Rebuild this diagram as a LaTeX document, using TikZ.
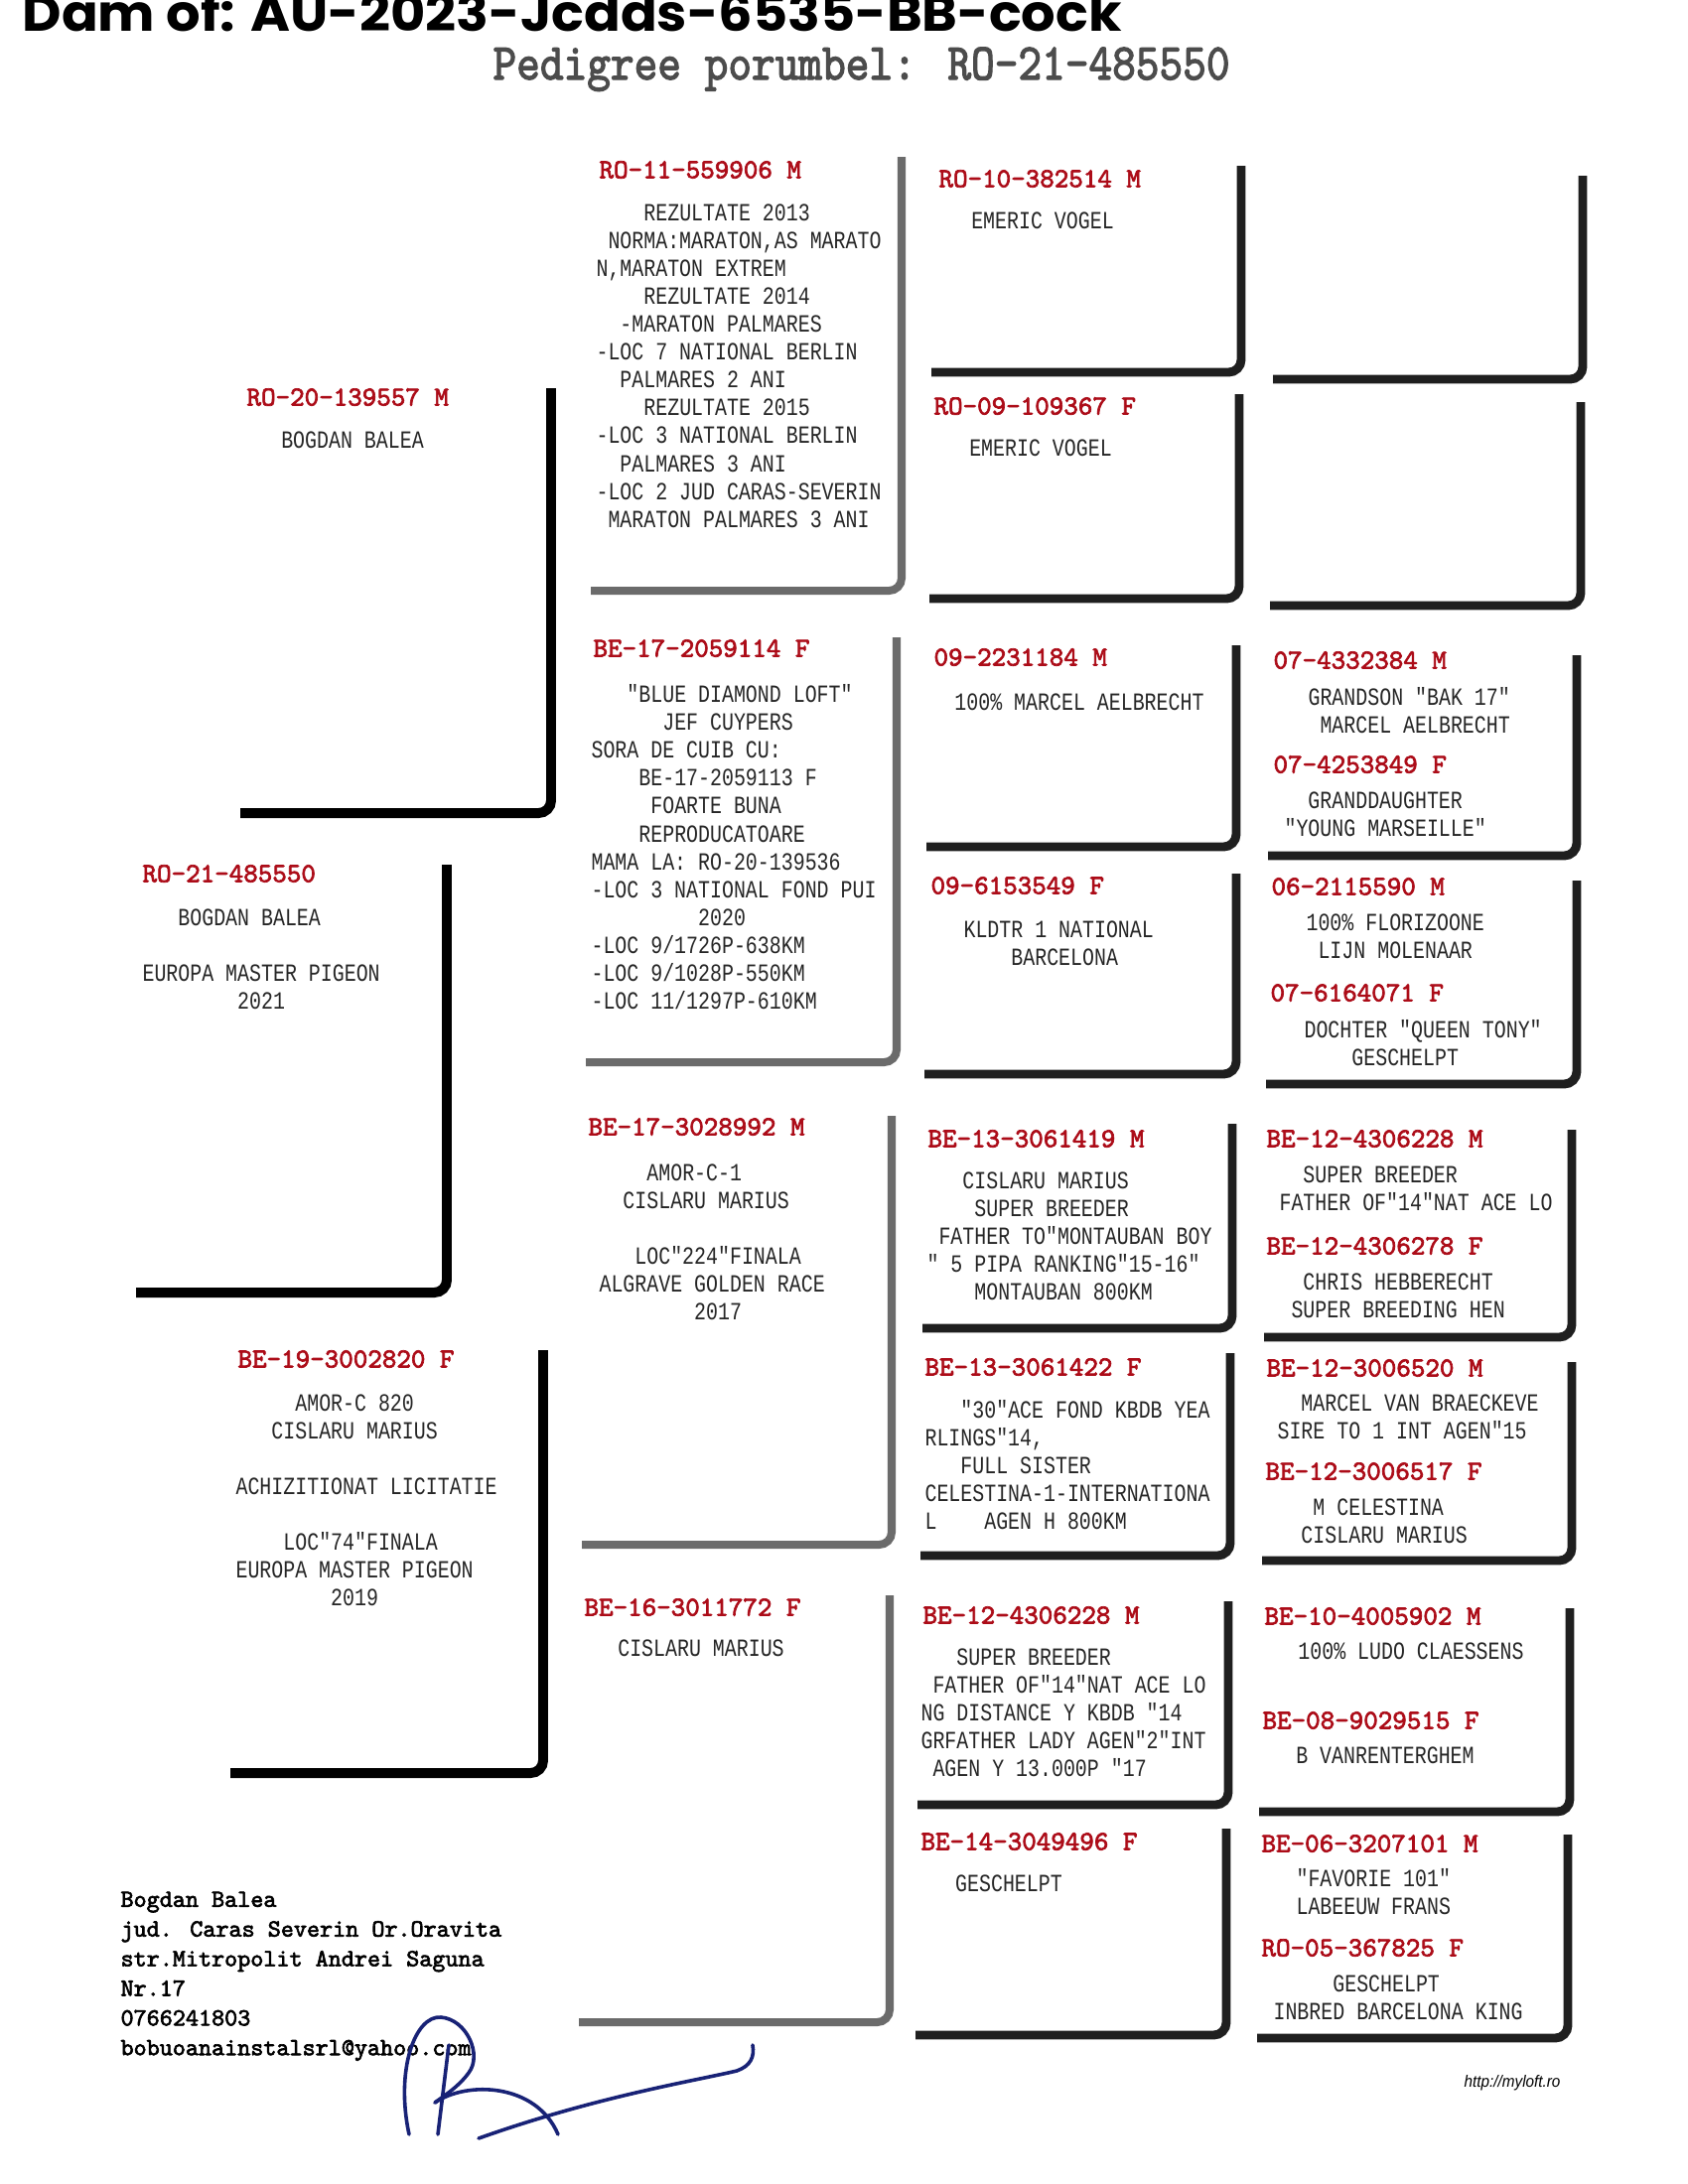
\documentclass[tikz,border=0pt]{standalone}
\usepackage{fontspec}
\usepackage{graphicx}
\usepackage{tikz}
\newfontfamily\boxfont[FakeStretch=0.8]{Liberation Mono}
\newfontfamily\slabfont[FakeBold=2.5]{lmmono10-regular.otf}
\newfontfamily\handfont{Poppins}
\newfontfamily\urlfont{Liberation Sans}
\definecolor{idred}{RGB}{172,12,24}
\definecolor{ink}{RGB}{24,34,118}
\newcommand\pad[1]{\hspace*{#1\fontcharwd\font`\0}}
\tikzstyle{fr}=[line width=3.2pt,draw=black!88,rounded corners=1.6mm]
\tikzstyle{frb}=[line width=3.6pt,draw=black,rounded corners=1.6mm]
\tikzstyle{frg}=[line width=2.9pt,draw=black!58,rounded corners=1.6mm]
\tikzstyle{idno}=[anchor=west,inner sep=0pt,text=idred,font=\slabfont\fontsize{10}{12}\selectfont]
\tikzstyle{tx}=[anchor=north west,inner sep=0pt,align=left,text=black!85,font=\boxfont\fontsize{9}{10.15}\selectfont]
\tikzstyle{txc}=[inner sep=0pt,text=black!85,font=\boxfont\fontsize{9}{10.15}\selectfont]
\tikzstyle{sign}=[draw=ink,line width=1.3pt,line cap=round]

\begin{document}
\begin{tikzpicture}[x=0.127mm,y=-0.127mm]
        \useasboundingbox (0,0) rectangle (1700,2200);
        \fill[white] (0,0) rectangle (1700,2200);
        % header
        \node[anchor=base west,inner sep=0pt,font=\handfont\bfseries\fontsize{18.5}{20}\selectfont] (dam) at (22,31) {\scalebox{1.06}[1]{Dam of: AU-2023-Jcdds-6535-BB-cock}};
        \node[anchor=base west,inner sep=0pt,text=black!70,font=\slabfont\fontsize{16.3}{18}\selectfont] (title) at (496,80) {\scalebox{1}[1.15]{Pedigree porumbel: RO-21-485550}};

        % generation 1
        \draw[frb] (450,871) -- (450,1302) -- (137,1302);
        \node[idno] (p) at (143,880) {RO-21-485550};
        \node[tx] (pt) at (143,915) {\pad{3}BOGDAN BALEA\\[10.15pt] EUROPA MASTER PIGEON\\ \pad{8}2021};

        % generation 2
        \draw[frb] (555,391) -- (555,819) -- (242,819);
        \node[idno] (s) at (248,400) {RO-20-139557 M};
        \node[txc] (st) at (355,443) {BOGDAN BALEA};
        \draw[frb] (547,1360) -- (547,1786) -- (232,1786);
        \node[idno] (d) at (239,1369) {BE-19-3002820 F};
        \node[tx] (dt) at (237,1404) {\pad{5}AMOR-C 820\\ \pad{3}CISLARU MARIUS\\[10.15pt] ACHIZITIONAT LICITATIE\\[10.15pt] \pad{4}LOC"74"FINALA\\ EUROPA MASTER PIGEON\\ \pad{8}2019};

        % generation 3
        \draw[frg] (908,158) -- (908,595) -- (595,595);
        \node[idno] (ss) at (603,171) {RO-11-559906 M};
        \node[tx] (sst) at (600,205) {\pad{4}REZULTATE 2013\\ \pad{1}NORMA:MARATON,AS MARATO\\ N,MARATON EXTREM\\ \pad{4}REZULTATE 2014\\ \pad{2}-MARATON PALMARES\\ -LOC 7 NATIONAL BERLIN\\ \pad{2}PALMARES 2 ANI\\ \pad{4}REZULTATE 2015\\ -LOC 3 NATIONAL BERLIN\\ \pad{2}PALMARES 3 ANI\\ -LOC 2 JUD CARAS-SEVERIN\\ \pad{1}MARATON PALMARES 3 ANI};
        \draw[frg] (903,642) -- (903,1070) -- (590,1070);
        \node[idno] (sd) at (597,653) {BE-17-2059114 F};
        \node[tx] (sdt) at (595,689) {\pad{3}"BLUE DIAMOND LOFT"\\ \pad{6}JEF CUYPERS\\ SORA DE CUIB CU:\\ \pad{4}BE-17-2059113 F\\ \pad{5}FOARTE BUNA\\ \pad{4}REPRODUCATOARE\\ MAMA LA: RO-20-139536\\ -LOC 3 NATIONAL FOND PUI\\ \pad{9}2020\\ -LOC 9/1726P-638KM\\ -LOC 9/1028P-550KM\\ -LOC 11/1297P-610KM};
        \draw[frg] (898,1124) -- (898,1556) -- (586,1556);
        \node[idno] (ds) at (592,1135) {BE-17-3028992 M};
        \node[tx] (dst) at (603,1172) {\pad{4}AMOR-C-1\\ \pad{2}CISLARU MARIUS\\[10.15pt] \pad{3}LOC"224"FINALA\\ ALGRAVE GOLDEN RACE\\ \pad{8}2017};
        \draw[frg] (896,1607) -- (896,2037) -- (583,2037);
        \node[idno] (dd) at (588,1619) {BE-16-3011772 F};
        \node[txc] (ddt) at (706,1660) {CISLARU MARIUS};

        % generation 4
        \draw[fr] (1250,167) -- (1250,375) -- (938,375);
        \node[idno] (sss) at (945,180) {RO-10-382514 M};
        \node[txc] (ssst) at (1050,222) {EMERIC VOGEL};
        \draw[fr] (1248,397) -- (1248,603) -- (936,603);
        \node[idno] (ssd) at (940,409) {RO-09-109367 F};
        \node[txc] (ssdt) at (1048,451) {EMERIC VOGEL};
        \draw[fr] (1245,650) -- (1245,853) -- (933,853);
        \node[idno] (sds) at (940,662) {09-2231184 M};
        \node[txc] (sdst) at (1087,707) {100\% MARCEL AELBRECHT};
        \draw[fr] (1245,880) -- (1245,1082) -- (931,1082);
        \node[idno] (sdd) at (937,892) {09-6153549 F};
        \node[tx] (sddt) at (970,927) {KLDTR 1 NATIONAL\\ \pad{4}BARCELONA};
        \draw[fr] (1241,1132) -- (1241,1338) -- (929,1338);
        \node[idno] (dss) at (934,1147) {BE-13-3061419 M};
        \node[tx] (dsst) at (933,1180) {\pad{3}CISLARU MARIUS\\ \pad{4}SUPER BREEDER\\ \pad{1}FATHER TO"MONTAUBAN BOY\\ " 5 PIPA RANKING"15-16"\\ \pad{4}MONTAUBAN 800KM};
        \draw[fr] (1239,1363) -- (1239,1567) -- (927,1567);
        \node[idno] (dsd) at (931,1377) {BE-13-3061422 F};
        \node[tx] (dsdt) at (931,1410) {\pad{3}"30"ACE FOND KBDB YEA\\ RLINGS"14,\\ \pad{3}FULL SISTER\\ CELESTINA-1-INTERNATIONA\\ L\pad{4}AGEN H 800KM};
        \draw[fr] (1237,1613) -- (1237,1818) -- (924,1818);
        \node[idno] (dds) at (929,1627) {BE-12-4306228 M};
        \node[tx] (ddst) at (927,1660) {\pad{3}SUPER BREEDER\\ \pad{1}FATHER OF"14"NAT ACE LO\\ NG DISTANCE Y KBDB "14\\ GRFATHER LADY AGEN"2"INT\\ \pad{1}AGEN Y 13.000P "17};
        \draw[fr] (1235,1842) -- (1235,2050) -- (922,2050);
        \node[idno] (ddd) at (927,1855) {BE-14-3049496 F};
        \node[txc] (dddt) at (1016,1897) {GESCHELPT};

        % generation 5
        \draw[fr] (1594,177) -- (1594,382) -- (1282,382);
        \draw[fr] (1592,405) -- (1592,610) -- (1279,610);
        \draw[fr] (1588,660) -- (1588,862) -- (1277,862);
        \node[idno] (sdss) at (1282,665) {07-4332384 M};
        \node[tx] (sdsst) at (1317,692) {GRANDSON "BAK 17"\\ \pad{1}MARCEL AELBRECHT};
        \node[idno] (sdsd) at (1282,770) {07-4253849 F};
        \node[tx] (sdsdt) at (1293,797) {\pad{2}GRANDDAUGHTER\\ "YOUNG MARSEILLE"};
        \draw[fr] (1588,887) -- (1588,1092) -- (1275,1092);
        \node[idno] (sdds) at (1280,893) {06-2115590 M};
        \node[tx] (sddst) at (1315,920) {100\% FLORIZOONE\\ \pad{1}LIJN MOLENAAR};
        \node[idno] (sddd) at (1279,1000) {07-6164071 F};
        \node[tx] (sdddt) at (1313,1027) {DOCHTER "QUEEN TONY"\\ \pad{4}GESCHELPT};
        \draw[fr] (1583,1138) -- (1583,1347) -- (1273,1347);
        \node[idno] (dsss) at (1275,1147) {BE-12-4306228 M};
        \node[tx] (dssst) at (1288,1174) {\pad{2}SUPER BREEDER\\ FATHER OF"14"NAT ACE LO};
        \node[idno] (dssd) at (1275,1255) {BE-12-4306278 F};
        \node[tx] (dssdt) at (1288,1282) {\pad{2}CHRIS HEBBERECHT\\ \pad{1}SUPER BREEDING HEN};
        \draw[fr] (1583,1372) -- (1583,1572) -- (1271,1572);
        \node[idno] (dsds) at (1275,1378) {BE-12-3006520 M};
        \node[tx] (dsdst) at (1286,1404) {\pad{2}MARCEL VAN BRAECKEVE\\ SIRE TO 1 INT AGEN"15};
        \node[idno] (dsdd) at (1274,1482) {BE-12-3006517 F};
        \node[tx] (dsddt) at (1286,1509) {\pad{3}M CELESTINA\\ \pad{2}CISLARU MARIUS};
        \draw[fr] (1581,1620) -- (1581,1825) -- (1268,1825);
        \node[idno] (ddss) at (1273,1628) {BE-10-4005902 M};
        \node[txc] (ddsst) at (1421,1663) {100\% LUDO CLAESSENS};
        \node[idno] (ddsd) at (1271,1733) {BE-08-9029515 F};
        \node[txc] (ddsdt) at (1395,1768) {B VANRENTERGHEM};
        \draw[fr] (1579,1848) -- (1579,2053) -- (1266,2053);
        \node[idno] (ddds) at (1270,1857) {BE-06-3207101 M};
        \node[tx] (dddst) at (1305,1882) {"FAVORIE 101"\\ LABEEUW FRANS};
        \node[idno] (dddd) at (1270,1962) {RO-05-367825 F};
        \node[tx] (ddddt) at (1282,1989) {\pad{5}GESCHELPT\\ INBRED BARCELONA KING};

        % footer
        \node[anchor=north west,inner sep=0pt,align=left,font=\slabfont\fontsize{9}{10.8}\selectfont] (addr) at (121,1905) {Bogdan Balea\\ jud. Caras Severin Or.Oravita\\ str.Mitropolit Andrei Saguna\\ Nr.17\\ 0766241803\\ bobuoanainstalsrl@yahoo.com};
        \node[anchor=base east,inner sep=0pt,font=\urlfont\itshape\fontsize{6}{7}\selectfont] (url) at (1572,2102) {\scalebox{0.92}[1]{http://myloft.ro}};

        % signature
        \draw[sign] (412,2150) .. controls (398,2085) and (418,2030) .. (444,2032) .. controls (470,2034) and (486,2070) .. (472,2088) .. controls (462,2102) and (446,2112) .. (438,2118);
        \draw[sign] (438,2118) .. controls (470,2096) and (540,2098) .. (562,2150);
        \draw[sign] (452,2060) -- (441,2150);
        \draw[sign] (482,2154) .. controls (600,2112) and (700,2096) .. (742,2086) .. controls (756,2081) and (760,2072) .. (758,2060);
    \end{tikzpicture}
\end{document}
